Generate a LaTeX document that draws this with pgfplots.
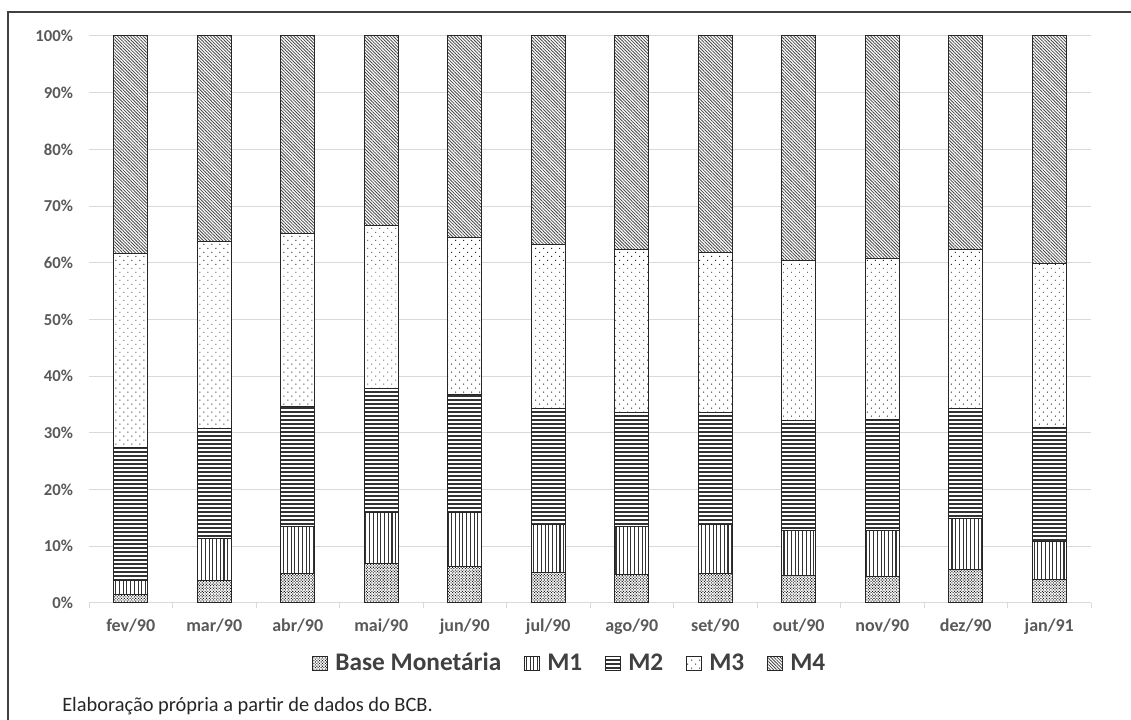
\documentclass[border=0pt]{standalone}
\usepackage{fontspec}
\setmainfont{Carlito}
\usepackage{pgfplots}
\pgfplotsset{compat=1.18}
\usetikzlibrary{patterns.meta}
\definecolor{ticktxt}{HTML}{595959}
\definecolor{gridc}{HTML}{D9D9D9}
\definecolor{framec}{HTML}{404040}
\definecolor{legtxt}{HTML}{404040}

\begin{document}
\begin{tikzpicture}
\useasboundingbox (0,0) rectangle (848.25pt,540pt);
% chart area border (top and left edges)
\draw[framec, line width=1pt] (6pt,-2pt) -- (6pt,531pt) -- (850pt,531pt);
\begin{axis}[
  at={(66.75pt,87.75pt)}, anchor=south west,
  scale only axis, width=751.5pt, height=425.25pt,
  ybar stacked, bar width=0.41,
  xmin=-0.5, xmax=11.5, ymin=0, ymax=100,
  /pgf/number format/assume math mode=true,
  xtick={0,...,11},
  xticklabels={fev/90,mar/90,abr/90,mai/90,jun/90,jul/90,ago/90,set/90,out/90,nov/90,dez/90,jan/91},
  minor xtick={-0.5,0.5,...,11.5},
  ytick={0,10,...,100},
  yticklabels={0\%,10\%,20\%,30\%,40\%,50\%,60\%,70\%,80\%,90\%,100\%},
  major tick length=0pt,
  minor tick length=3.75pt,
  tick align=outside,
  minor x tick style={gridc, line width=0.75pt},
  axis x line*=bottom, axis y line*=left,
  x axis line style={gridc, line width=0.75pt, -},
  y axis line style={draw=none},
  ymajorgrids, major grid style={gridc, line width=0.75pt},
  xticklabel style={font=\bfseries\fontsize{13.5}{15}\selectfont, text=ticktxt, yshift=-8pt},
  yticklabel style={font=\bfseries\fontsize{12.5}{14}\selectfont, text=ticktxt, anchor=east, xshift=-8.5pt},
  legend style={draw=none, fill=none, at={(0.48,-0.106)}, anchor=center,
    legend columns=-1, font=\bfseries\fontsize{19}{21}\selectfont, text=legtxt,
    /tikz/every even column/.append style={column sep=15pt},
    /tikz/every odd column/.append style={column sep=3.5pt}},
  legend image code/.code={\draw[#1] (0pt,-5.25pt) rectangle (11.25pt,5.25pt);},
  every axis plot/.append style={draw=black!85, line width=0.75pt, preaction={fill=white}},
]
% Base Monetaria
\addplot[pattern={Dots[distance=1.5pt, radius=0.55pt, angle=45]}, pattern color=black!90]
  coordinates {(0,1.5) (1,3.9) (2,5.2) (3,6.9) (4,6.5) (5,5.4) (6,5.1) (7,5.2) (8,4.8) (9,4.6) (10,5.9) (11,4.1)};
% M1
\addplot[pattern={Lines[angle=90, distance=2.8pt, line width=0.8pt]}, pattern color=black!80]
  coordinates {(0,2.5) (1,7.5) (2,8.3) (3,9.0) (4,9.4) (5,8.5) (6,8.4) (7,8.7) (8,7.9) (9,8.1) (10,9.0) (11,6.7)};
% M2
\addplot[pattern={Lines[angle=0, distance=3pt, line width=0.8pt]}, pattern color=black!80]
  coordinates {(0,23.4) (1,19.3) (2,21.1) (3,22.0) (4,20.8) (5,20.4) (6,20.1) (7,19.7) (8,19.4) (9,19.6) (10,19.4) (11,20.1)};
% M3
\addplot[pattern={Dots[distance=4.24pt, radius=0.5pt, angle=45]}, pattern color=black!85]
  coordinates {(0,34.2) (1,33.1) (2,30.5) (3,28.7) (4,27.7) (5,28.9) (6,28.7) (7,28.3) (8,28.3) (9,28.5) (10,28.0) (11,29.0)};
% M4
\addplot[pattern={Lines[angle=-45, distance=1.7pt, line width=0.6pt]}, pattern color=black!72]
  coordinates {(0,38.4) (1,36.2) (2,34.9) (3,33.4) (4,35.6) (5,36.8) (6,37.7) (7,38.1) (8,39.6) (9,39.2) (10,37.7) (11,40.1)};
\legend{Base Monetária, M1, M2, M3, M4}
\end{axis}
\node[anchor=west, font=\fontsize{15.3}{17}\selectfont, text=black!85, inner sep=0pt] at (46.5pt,10.5pt) {Elaboração própria a partir de dados do BCB.};
\end{tikzpicture}
\end{document}
